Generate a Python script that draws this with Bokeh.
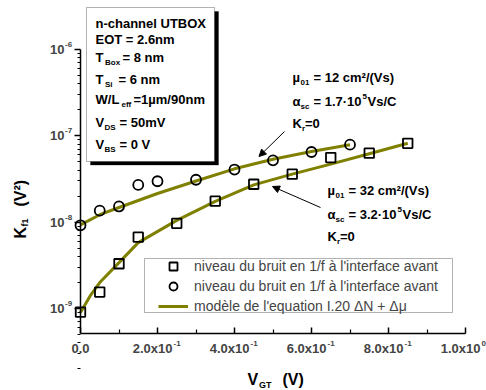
import math
from bokeh.plotting import figure
from bokeh.models import (Range1d, FixedTicker, Label, BoxAnnotation, Arrow, NormalHead,
                          Legend, LegendItem, CustomJSTickFormatter)
from bokeh.embed import file_html
from bokeh.resources import INLINE

# ---------------- data ----------------
# squares: front interface noise level
vgt_sq = [0.0, 0.05, 0.10, 0.15, 0.25, 0.35, 0.45, 0.55, 0.65, 0.75, 0.85]
kf_sq = [9.1e-10, 1.55e-9, 3.3e-9, 6.7e-9, 9.7e-9, 1.75e-8, 2.75e-8, 3.6e-8, 5.6e-8, 6.3e-8, 8.2e-8]
# circles
vgt_ci = [0.0, 0.05, 0.10, 0.15, 0.20, 0.30, 0.40, 0.50, 0.60, 0.70]
kf_ci = [9.2e-9, 1.36e-8, 1.52e-8, 2.7e-8, 2.98e-8, 3.1e-8, 4.07e-8, 5.2e-8, 6.5e-8, 7.9e-8]
# model curves (I.20  dN + dmu)
model_up_x = [0.0, 0.05, 0.10, 0.20, 0.30, 0.40, 0.50, 0.60, 0.70]
model_up_k = [9.3e-9, 1.22e-8, 1.48e-8, 2.15e-8, 3.0e-8, 4.15e-8, 5.35e-8, 6.6e-8, 7.9e-8]
model_lo_x = [0.0, 0.025, 0.05, 0.10, 0.15, 0.25, 0.35, 0.45, 0.55, 0.65, 0.75, 0.85]
model_lo_k = [9.0e-10, 1.4e-9, 2.0e-9, 3.4e-9, 5.8e-9, 1.05e-8, 1.74e-8, 2.7e-8, 3.6e-8, 4.7e-8, 6.2e-8, 8.2e-8]

x_tick_vals = [0.0, 0.2, 0.4, 0.6, 0.8, 1.0]
x_tick_base = ["0.0", "2.0x10", "4.0x10", "6.0x10", "8.0x10", "1.0x10"]
x_tick_exp = ["", "-1", "-1", "-1", "-1", "0"]
x_minor = [0.1, 0.3, 0.5, 0.7, 0.9]
y_tick_vals = [1e-9, 1e-8, 1e-7, 1e-6]
y_tick_exp = ["-9", "-8", "-7", "-6"]

legend_labels = ["niveau du bruit en 1/f à l'interface avant",
                 "niveau du bruit en 1/f à l'interface avant",
                 "modèle de l'equation I.20 \u0394N + \u0394\u03bc"]

FONT = "Liberation Sans"
OLIVE = "#808000"

# reference-pixel -> data helpers (layout of annotations only)
X0_PX, X_SCALE = 80.0, 385.0
Y9_PX, DEC_PX = 308.0, 86.33
W, H = 486, 390


def xp(px):
    return (px - X0_PX) / X_SCALE


def yp(py):
    return 10 ** (-9 + (Y9_PX - py) / DEC_PX)


Y_MIN = yp(333)

p = figure(width=W, height=H, output_backend="svg", toolbar_location=None, title=None,
           y_axis_type="log", x_range=Range1d(xp(0), xp(W)), y_range=Range1d(yp(H), yp(0)),
           min_border=0)
p.outline_line_color = None
p.xgrid.visible = False
p.ygrid.visible = False

p.xaxis.ticker = FixedTicker(ticks=x_tick_vals, minor_ticks=x_minor)
p.xaxis.formatter = CustomJSTickFormatter(code="return ''")
p.xaxis.fixed_location = Y_MIN
p.xaxis.bounds = (0.0, 1.0)
p.yaxis.ticker = FixedTicker(ticks=y_tick_vals,
                             minor_ticks=[m * 10.0 ** e for e in range(-10, -6) for m in range(2, 10)])
p.yaxis.formatter = CustomJSTickFormatter(code="return ''")
p.yaxis.fixed_location = 0.0
p.yaxis.bounds = (Y_MIN, 1e-6)
for ax in (p.xaxis[0], p.yaxis[0]):
    ax.axis_line_width = 1.5
    ax.axis_line_color = "black"
    ax.major_tick_line_width = 1.5
    ax.minor_tick_line_width = 1.2
    ax.major_tick_line_color = "black"
    ax.minor_tick_line_color = "black"
    ax.major_label_standoff = 0
p.xaxis.major_tick_in = 6
p.xaxis.major_tick_out = 0
p.xaxis.minor_tick_in = 4
p.xaxis.minor_tick_out = 0
p.yaxis.major_tick_in = 0
p.yaxis.major_tick_out = 6
p.yaxis.minor_tick_in = 0
p.yaxis.minor_tick_out = 3

# curves and markers
r_lo = p.line(model_lo_x, model_lo_k, line_color=OLIVE, line_width=3)
r_up = p.line(model_up_x, model_up_k, line_color=OLIVE, line_width=3)
r_sq = p.scatter(vgt_sq, kf_sq, marker="square", size=9.5, fill_color=None,
                 line_color="black", line_width=1.8)
r_ci = p.scatter(vgt_ci, kf_ci, marker="circle", size=10, fill_color=None,
                 line_color="black", line_width=1.8)


def txt(px, py, s, size=13, bold=True, align="left", angle=0.0):
    p.add_layout(Label(x=xp(px), y=yp(py), text=s, text_font=FONT,
                       text_font_size=f"{size}px",
                       text_font_style="bold" if bold else "normal",
                       text_align=align, text_baseline="middle", angle=angle,
                       text_color="black"))


# tick labels
for v, b, e in zip(x_tick_vals, x_tick_base, x_tick_exp):
    if e:
        p.add_layout(Label(x=v, y=yp(348), x_offset=15, text=b, text_font=FONT,
                           text_font_size="13px", text_font_style="bold",
                           text_align="right", text_baseline="middle"))
        p.add_layout(Label(x=v, y=yp(348), x_offset=16, y_offset=5, text=e, text_font=FONT,
                           text_font_size="8px", text_font_style="bold",
                           text_align="left", text_baseline="middle"))
    else:
        p.add_layout(Label(x=v, y=yp(348), text=b, text_font=FONT,
                           text_font_size="13px", text_font_style="bold",
                           text_align="center", text_baseline="middle"))
for v, e in zip(y_tick_vals, y_tick_exp):
    p.add_layout(Label(x=xp(64), y=v, text="10", text_font=FONT,
                       text_font_size="13px", text_font_style="bold",
                       text_align="right", text_baseline="middle"))
    p.add_layout(Label(x=xp(64.5), y=v, y_offset=5, text=e, text_font=FONT,
                       text_font_size="8px", text_font_style="bold",
                       text_align="left", text_baseline="middle"))

# axis titles
txt(247, 379, "V", 16)
txt(258.5, 384, "GT", 9)
txt(282, 379, "(V)", 16)
txt(20, 238, "K", 16, angle=math.pi / 2)
txt(24, 226, "f1", 9, angle=math.pi / 2)
txt(20, 206, "(V\u00b2)", 16, angle=math.pi / 2)

# parameter box with shadow
p.add_layout(BoxAnnotation(left=xp(90), right=xp(218), top=yp(11), bottom=yp(164.5),
                           fill_color="black", fill_alpha=1, line_color="black"))
p.add_layout(BoxAnnotation(left=xp(86), right=xp(214), top=yp(7), bottom=yp(161),
                           fill_color="white", fill_alpha=1, line_color="black", line_width=1))
txt(95, 23, "n-channel UTBOX")
txt(95, 39, "EOT = 2.6nm")
txt(95, 57, "T"); txt(104.5, 62, "Box", 8); txt(122, 57, "= 8 nm")
txt(95, 79, "T"); txt(104.5, 84, "Si", 8); txt(118, 79, "= 6 nm")
txt(95, 99, "W/L"); txt(121, 104, "eff", 8); txt(133, 99, "=1\u00b5m/90nm")
txt(95, 122, "V"); txt(104, 127, "DS", 8); txt(119, 122, "= 50mV")
txt(95, 144, "V"); txt(104, 149, "BS", 8); txt(119, 144, "= 0 V")

# fit parameter annotations
txt(292, 77, "\u00b5"); txt(300, 82, "01", 8); txt(313, 77, "= 12 cm\u00b2/(Vs)")
txt(292, 101, "\u03b1"); txt(300, 106, "sc", 8); txt(313, 101, "= 1.7\u00b710")
txt(362, 96, "5", 8); txt(367, 101, "Vs/C")
txt(292, 123, "K"); txt(301.5, 128, "r", 8); txt(304.5, 123, "=0")

txt(327, 190, "\u00b5"); txt(335, 195, "01", 8); txt(348, 190, "= 32 cm\u00b2/(Vs)")
txt(327, 214, "\u03b1"); txt(335, 219, "sc", 8); txt(348, 214, "= 3.2\u00b710")
txt(397, 209, "5", 8); txt(402, 214, "Vs/C")
txt(327, 236, "K"); txt(336.5, 241, "r", 8); txt(339.5, 236, "=0")

# arrows
for xs, ys, xe, ye in [(284, 131, 258.5, 156), (320, 207, 272, 186)]:
    p.add_layout(Arrow(x_start=xp(xs), y_start=yp(ys), x_end=xp(xe), y_end=yp(ye),
                       line_color="black", line_width=1,
                       end=NormalHead(size=7, fill_color="black", line_color="black",
                                      line_width=1)))

# legend frame + legend
p.add_layout(BoxAnnotation(left=xp(144), right=xp(452), top=yp(258), bottom=yp(312),
                           fill_color="white", fill_alpha=1, line_color="black", line_width=1))
legend = Legend(items=[LegendItem(label=legend_labels[0], renderers=[r_sq]),
                       LegendItem(label=legend_labels[1], renderers=[r_ci]),
                       LegendItem(label=legend_labels[2], renderers=[r_lo])],
                location=(158, 74), padding=4, margin=0, spacing=-3,
                glyph_width=30, glyph_height=20, label_height=20, label_standoff=6,
                label_text_font=FONT, label_text_font_size="14px",
                border_line_color=None, background_fill_alpha=0)
p.add_layout(legend)

open("out.html", "w").write(file_html(p, INLINE))
